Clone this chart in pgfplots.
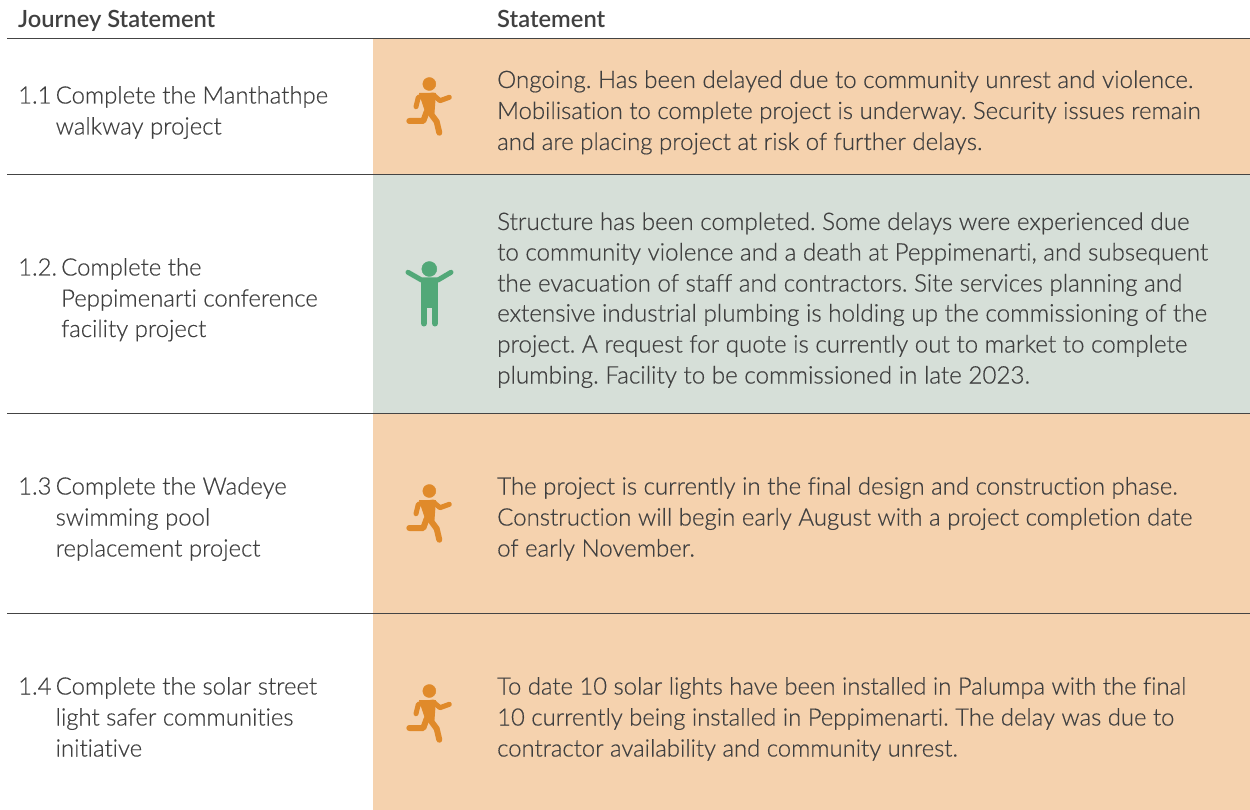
\documentclass[border=0pt]{standalone}
\usepackage{pgfplots}
\usepackage{pgfplotstable}
\usepackage{fontspec}
\setmainfont{Lato Light}[FakeBold=0.5,Ligatures={NoCommon,TeX}]
\newfontfamily\hdr{Lato Semibold}[Ligatures={NoCommon,TeX}]
\pgfplotsset{compat=1.18}
\definecolor{rowo}{HTML}{F5D2AE}
\definecolor{rowg}{HTML}{D6DFD8}
\definecolor{icono}{HTML}{E08A2A}
\definecolor{icong}{HTML}{52A878}
\definecolor{txt}{HTML}{404040}
\definecolor{rule}{HTML}{444444}
\pgfplotstableread{
x y
416 106.7
418.3 97.3
433.3 95
440 100.7
449.3 97.3
}\runarm
\pgfplotstableread{
x y
419.5 93.5
435.5 93.5
433.8 115
425 110
}\runbody
\pgfplotstableread{
x y
426.7 111.7
423.3 121
409.3 121
}\runback
\pgfplotstableread{
x y
429.3 111.7
436.7 121.7
439.3 132.7
}\runfront
\pgfplotstableread{
x y
429.3 84
}\runhead
\newcommand{\runner}[1]{%
\addplot[draw=icono,line width=5pt,line cap=round,line join=round] table[x=x,y expr=\thisrow{y}+#1]{\runarm};
\addplot[draw=icono,fill=icono,line width=1pt,line join=round] table[x=x,y expr=\thisrow{y}+#1]{\runbody} -- cycle;
\addplot[draw=icono,line width=6pt,line cap=round,line join=round] table[x=x,y expr=\thisrow{y}+#1]{\runback};
\addplot[draw=icono,line width=6pt,line cap=round,line join=round] table[x=x,y expr=\thisrow{y}+#1]{\runfront};
\addplot[only marks,mark=*,mark size=6.5pt,mark options={draw=icono,fill=icono}] table[x=x,y expr=\thisrow{y}+#1]{\runhead};
}
\newcommand{\ltext}[3]{\node[anchor=base west,inner sep=0pt,text=txt,font=\fontsize{23.9}{24}\selectfont\frenchspacing] at (axis cs:#1,#2) {#3};}
\newcommand{\rtext}[3]{\node[anchor=base west,inner sep=0pt,text=txt,font=\fontsize{#1}{24}\selectfont\frenchspacing] at (axis cs:497,#2) {#3};}
\begin{document}
\begin{tikzpicture}
\begin{axis}[
  scale only axis,width=1250pt,height=810pt,
  xmin=0,xmax=1250,ymin=0,ymax=810,y dir=reverse,
  hide axis,clip=true,
]
\path (axis cs:0,0) rectangle (axis cs:1250,810);
% row fills
\addplot[draw=none,fill=rowo] coordinates {(373,39)(1250,39)(1250,175)(373,175)} -- cycle;
\addplot[draw=none,fill=rowg] coordinates {(373,175)(1250,175)(1250,414)(373,414)} -- cycle;
\addplot[draw=none,fill=rowo] coordinates {(373,414)(1250,414)(1250,614)(373,614)} -- cycle;
\addplot[draw=none,fill=rowo] coordinates {(373,614)(1250,614)(1250,810)(373,810)} -- cycle;
% rules
\addplot[draw=rule,line width=1pt] coordinates {(7,38.5)(1250,38.5)};
\addplot[draw=rule,line width=1pt] coordinates {(7,174.5)(1250,174.5)};
\addplot[draw=rule,line width=1pt] coordinates {(7,413.5)(1250,413.5)};
\addplot[draw=rule,line width=1pt] coordinates {(7,613.5)(1250,613.5)};
% icons
\runner{0}
\runner{407}
\runner{607}
\addplot[draw=icong,line width=5pt,line cap=round,line join=round] coordinates {(408,272.3)(421.5,280)(438,280)(451,272.3)};
\addplot[draw=none,fill=icong] coordinates {(421,279)(437.7,279)(437.7,308)(421,308)} -- cycle;
\addplot[draw=icong,line width=6pt,line cap=round] coordinates {(424,305)(424,323.5)};
\addplot[draw=icong,line width=6pt,line cap=round] coordinates {(435,305)(435,323.5)};
\addplot[only marks,mark=*,mark size=7.5pt,mark options={draw=icong,fill=icong}] coordinates {(429.3,269)};
% header
\node[anchor=base west,inner sep=0pt,text=txt,font=\hdr\fontsize{23.7}{22}\selectfont] at (axis cs:18,27.5) {Journey Statement};
\node[anchor=base west,inner sep=0pt,text=txt,font=\hdr\fontsize{23.7}{22}\selectfont] at (axis cs:497,27.5) {Statement};
% left column
\ltext{18}{103.5}{1.1}\ltext{55.5}{103.5}{Complete the Manthathpe}
\ltext{55.5}{134.5}{walkway project}
\ltext{18}{275.5}{1.2.}\ltext{61}{275.5}{Complete the}
\ltext{61}{306.5}{Peppimenarti conference}
\ltext{61}{337}{facility project}
\ltext{18}{494.5}{1.3}\ltext{55.5}{494.5}{Complete the Wadeye}
\ltext{55.5}{525.5}{swimming pool}
\ltext{55.5}{556.5}{replacement project}
\ltext{18}{694.5}{1.4}\ltext{55.5}{694.5}{Complete the solar street}
\ltext{55.5}{725.5}{light safer communities}
\ltext{55.5}{756.5}{initiative}
% right column
\rtext{24.1}{88}{Ongoing. Has been delayed due to community unrest and violence.}
\rtext{23.95}{119}{Mobilisation to complete project is underway. Security issues remain}
\rtext{24}{150}{and are placing project at risk of further delays.}
\rtext{24.2}{230}{Structure has been completed. Some delays were experienced due}
\rtext{24.1}{260.5}{to community violence and a death at Peppimenarti, and subsequent}
\rtext{24.2}{291.5}{the evacuation of staff and contractors. Site services planning and}
\rtext{24.2}{321.5}{extensive industrial plumbing is holding up the commissioning of the}
\rtext{24.2}{352.5}{project. A request for quote is currently out to market to complete}
\rtext{24.2}{383.5}{plumbing. Facility to be commissioned in late 2023.}
\rtext{24}{494.5}{The project is currently in the final design and construction phase.}
\rtext{24}{525.5}{Construction will begin early August with a project completion date}
\rtext{24}{556.5}{of early November.}
\rtext{23.85}{694.5}{To date 10 solar lights have been installed in Palumpa with the final}
\rtext{23.85}{725.5}{10 currently being installed in Peppimenarti. The delay was due to}
\rtext{23.85}{756.5}{contractor availability and community unrest.}
\end{axis}
\end{tikzpicture}
\end{document}
